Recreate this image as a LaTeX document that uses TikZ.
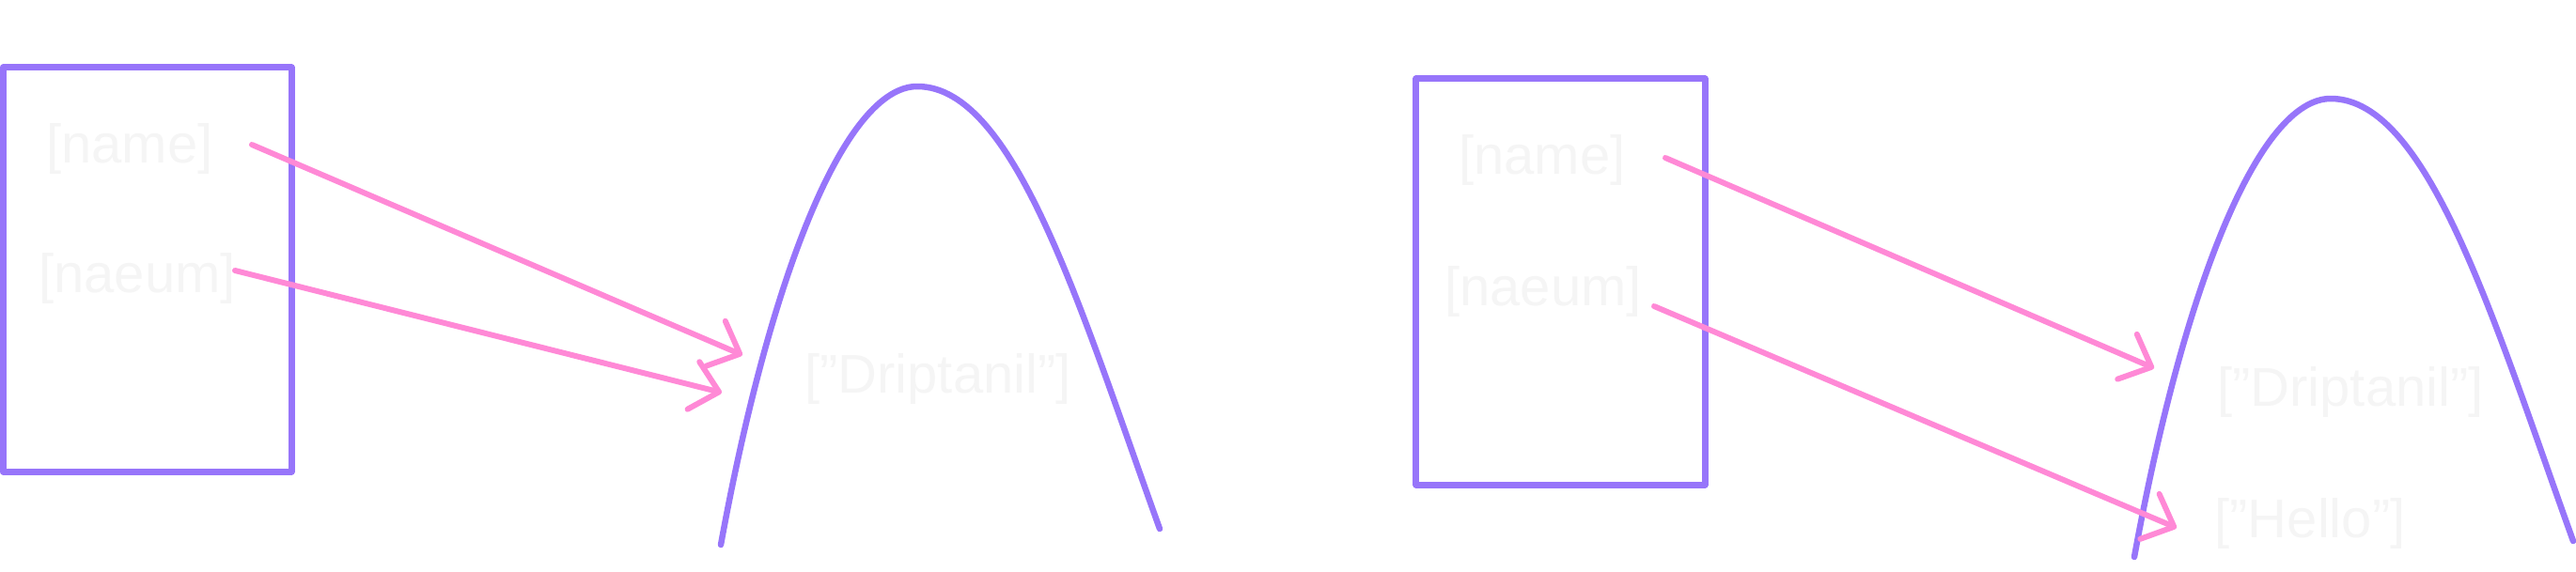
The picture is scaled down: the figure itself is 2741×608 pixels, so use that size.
\documentclass[tikz,border=0pt]{standalone}
\usepackage{fontspec}
\setmainfont{Liberation Sans}
\usetikzlibrary{arrows.meta}
\definecolor{violetline}{RGB}{151,117,250}
\definecolor{pinkline}{RGB}{255,137,214}
\definecolor{ghosttext}{RGB}{245,245,245}
\begin{document}
\begin{tikzpicture}[x=0.01cm,y=-0.01cm,
  frame/.style={draw=violetline, line width=2pt, line join=round, inner sep=0pt},
  hump/.style={draw=violetline, line width=1.85pt, line cap=round, line join=round},
  link/.style={draw=pinkline, line width=1.7pt, line cap=round,
    -{Straight Barb[length=0.28cm,width=0.52cm,round]}},
  ghost/.style={text=ghosttext, font=\fontsize{16.5}{18}\selectfont, inner sep=0pt}]
\useasboundingbox (0,0) rectangle (2741,608);

% ---------- left diagram ----------
\node[frame, minimum width=3.065cm, minimum height=4.30cm] (boxL) at (156.75,287) {};
\node[ghost] (nameL)  at (138,158) {[name]};
\node[ghost] (naeumL) at (146,296) {[naeum]};
\node[ghost] (dripL)  at (998,403) {["Driptanil"]};
\draw[hump] (767,580) .. controls (820,290) and (900,92) .. (976,92)
                      .. controls (1080,92) and (1150,330) .. (1234,563);
\coordinate (aLs) at (268,154);
\coordinate (aLe) at (790,378);
\coordinate (bLs) at (250,288);
\coordinate (bLe) at (768,418);
\draw[link] (aLs) -- (aLe);
\draw[link] (bLs) -- (bLe);

% ---------- right diagram ----------
\node[frame, minimum width=3.07cm, minimum height=4.32cm] (boxR) at (1660.5,300) {};
\node[ghost] (nameR)  at (1641,170) {[name]};
\node[ghost] (naeumR) at (1642,310) {[naeum]};
\node[ghost] (dripR)  at (2501,417) {["Driptanil"]};
\node[ghost] (helloR) at (2458,557) {["Hello"]};
\draw[hump] (2271,593) .. controls (2324,303) and (2404,105) .. (2480,105)
                       .. controls (2584,105) and (2654,343) .. (2738,576);
\coordinate (aRs) at (1772,168);
\coordinate (aRe) at (2292,392);
\coordinate (bRs) at (1760,326);
\coordinate (bRe) at (2316,562);
\draw[link] (aRs) -- (aRe);
\draw[link] (bRs) -- (bRe);
\end{tikzpicture}
\end{document}
